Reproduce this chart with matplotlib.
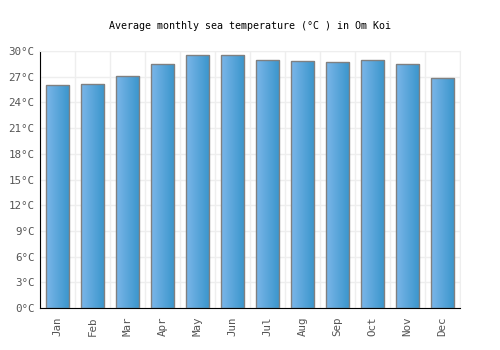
import matplotlib
matplotlib.use('Agg')
import matplotlib.pyplot as plt
import numpy as np
from matplotlib.colors import LinearSegmentedColormap

# sea temperature per month (°C)
months = ['Jan', 'Feb', 'Mar', 'Apr', 'May', 'Jun', 'Jul', 'Aug', 'Sep', 'Oct', 'Nov', 'Dec']
temps = [26.0, 26.1, 27.1, 28.5, 29.6, 29.5, 29.0, 28.8, 28.7, 29.0, 28.5, 26.9]
yticks = [0, 3, 6, 9, 12, 15, 18, 21, 24, 27, 30]
ytick_labels = [f'{t}°C' for t in yticks]

plt.rcParams['font.family'] = 'DejaVu Sans Mono'

fig = plt.figure(figsize=(5, 3.5), dpi=100)
ax = fig.add_axes([0.08, 0.12, 0.84, 0.734])

x = np.arange(len(months))
bars = ax.bar(x, temps, width=0.67, facecolor='none', edgecolor='#808080',
              linewidth=1.0, zorder=3)

# horizontal gradient inside each bar
cmap = LinearSegmentedColormap.from_list('blue', ['#7bb6e9', '#3995cb'])
grad = np.linspace(0, 1, 64).reshape(1, -1)
for bar in bars:
    x0 = bar.get_x()
    w = bar.get_width()
    h = bar.get_height()
    im = ax.imshow(grad, cmap=cmap, aspect='auto', extent=(x0, x0 + w, 0, h),
                   zorder=2, interpolation='bilinear')
    im.set_clip_path(bar)

ax.set_xlim(-0.5, len(months) - 0.5)
ax.set_ylim(0, 30)
ax.set_yticks(yticks)
ax.set_yticklabels(ytick_labels)
ax.set_xticks(x)
ax.set_xticklabels(months, rotation=90)

# grid lines between categories and at each y tick
ax.set_xticks(np.arange(-0.5, len(months), 1), minor=True)
ax.grid(which='minor', axis='x', color='#eeeeee', linewidth=1, zorder=0)
ax.grid(which='major', axis='y', color='#eeeeee', linewidth=1, zorder=0)
ax.set_axisbelow(True)

ax.tick_params(axis='both', which='both', length=0, labelsize=7.8, colors='#555555', pad=4)
ax.tick_params(axis='x', pad=6)

for side in ['top', 'right']:
    ax.spines[side].set_color('#eeeeee')
ax.spines['left'].set_color('black')
ax.spines['bottom'].set_color('black')

fig.suptitle('Average monthly sea temperature (°C ) in Om Koi', fontsize=7.2, y=0.94)

plt.savefig('out.png', dpi=100)
